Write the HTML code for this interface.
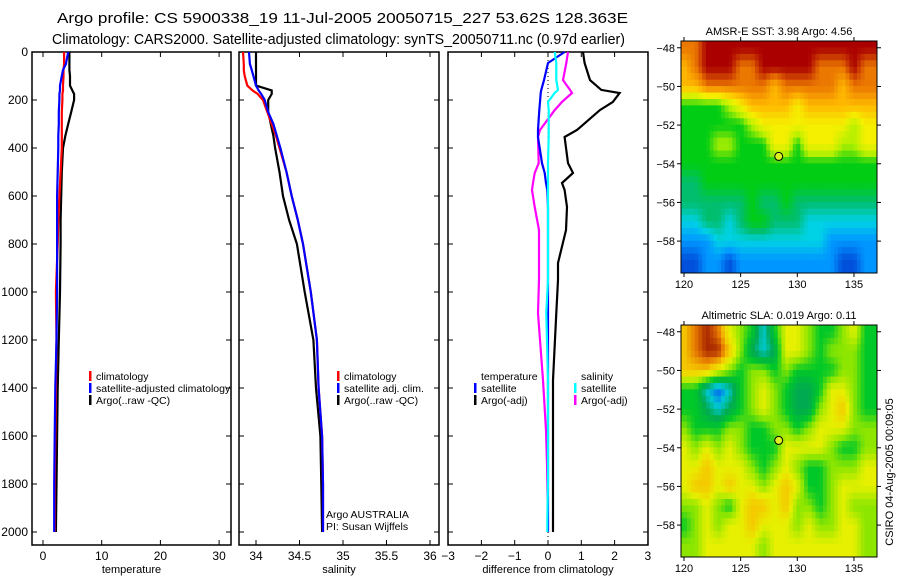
<!DOCTYPE html>
<html><head><meta charset="utf-8"><style>
html,body{margin:0;padding:0;background:#fff;}
svg{display:block;font-family:"Liberation Sans",sans-serif;}
</style></head><body>
<svg id="fig" width="900" height="580" xmlns="http://www.w3.org/2000/svg">
<defs>
<clipPath id="clip1"><rect x="681" y="41" width="196" height="232"/></clipPath>
<clipPath id="clip2"><rect x="681" y="325" width="196" height="232"/></clipPath>
</defs>
<text x="57" y="23" textLength="571" lengthAdjust="spacingAndGlyphs" font-size="15">Argo profile: CS 5900338_19 11-Jul-2005 20050715_227 53.62S 128.363E</text>
<text x="52" y="44" textLength="573" lengthAdjust="spacingAndGlyphs" font-size="15">Climatology: CARS2000. Satellite-adjusted climatology: synTS_20050711.nc (0.97d earlier)</text>
<g id="g"></g>
</svg>
<script>
// ---- data ----
const depths = [0,50,75,100,140,160,175,200,250,300,350,400,500,600,700,800,1000,1200,1400,1600,1800,2000];
const tempArgo = [4.5,4.5,4.5,4.6,4.6,5.0,5.3,5.3,4.8,4.3,3.8,3.4,3.2,3.1,3.0,3.0,2.9,2.7,2.5,2.4,2.3,2.2];
const tempClim = [3.6,3.6,3.5,3.5,3.4,3.4,3.3,3.3,3.2,3.2,3.2,3.2,3.0,2.8,2.6,2.5,2.2,2.3,2.2,2.1,2.0,2.0];
const tempSat  = [4.3,3.9,3.4,3.2,2.9,2.9,2.8,2.8,2.7,2.7,2.6,2.6,2.5,2.4,2.4,2.4,2.4,2.3,2.1,2.0,1.9,1.9];
const salArgo = [34.0,34.0,34.0,34.0,34.0,34.18,34.18,34.14,34.14,34.17,34.2,34.22,34.27,34.31,34.38,34.47,34.56,34.66,34.69,34.74,34.75,34.76];
const salClim = [33.85,33.86,33.86,33.87,33.9,33.96,34.02,34.08,34.13,34.18,34.23,34.27,34.35,34.41,34.48,34.54,34.63,34.70,34.72,34.76,34.77,34.77];
const salSat  = [33.92,33.93,33.95,33.97,34.0,34.03,34.06,34.1,34.14,34.2,34.24,34.28,34.35,34.41,34.48,34.54,34.63,34.70,34.72,34.76,34.77,34.77];
const diffDepths = [0,46,117,158,171,208,242,325,354,463,504,546,575,646,742,879,950,1088,1367,1575,1713,1783,1962,2000];
const dTempSat  = [0.5,0.0,-0.12,-0.2,-0.22,-0.24,-0.26,-0.3,-0.3,-0.18,-0.1,-0.06,-0.02,0,0,0,0,0,0,0,0,0,0,0];
const dTempArgo = [1.05,1.1,1.26,1.6,2.15,1.95,1.56,0.87,0.5,0.6,0.75,0.42,0.5,0.57,0.54,0.3,0.3,0.25,0.15,0.15,0.15,0.15,0.15,0.15];
const dSalSat   = [0.2,0.25,0.25,0.3,0.2,0.0,0.02,0.02,0.02,0.0,0.0,0.0,0.0,0.0,0.0,0.0,0.0,-0.05,0.0,0.0,0.0,0.0,-0.02,-0.02];
const dSalArgo  = [0.6,0.55,0.45,0.66,0.72,0.42,0.2,-0.24,-0.3,-0.28,-0.4,-0.45,-0.48,-0.4,-0.27,-0.27,-0.27,-0.3,-0.15,-0.06,-0.03,-0.02,0.0,0.0];
const depthTicks = [0,200,400,600,800,1000,1200,1400,1600,1800,2000];
const tempTicks = [0,10,20,30];
const salTicks = [34,34.5,35,35.5,36];
const salTickLabels = ["34","34.5","35","35.5","36"];
const diffTicks = [-3,-2,-1,0,1,2,3];
const mapLons = [120,121,122,123,124,125,126,127,128,129,130,131,132,133,134,135,136];
const mapLats = [-48,-49,-50,-51,-52,-53,-54,-55,-56,-57,-58,-59];
const lonTicks = [120,125,130,135];
const latTicks = [-48,-50,-52,-54,-56,-58];
const sstGrid = [
[8,8,9,9,9,9,9,9,9,9,9,9,9,9,9,9,9],
[7,8,9,9,9,8,8,9,9,9,9,9,8,8,8,9,8],
[7,7,8,8,8,8,8,8,7,8,8,8,8,8,7,8,8],
[4,4,4,4,5,6,7,7,7,7,6,7,7,7,7,7,7],
[4,4,4,4,4,4,5,6,6,6,6,6,6,6,6,5,6],
[4,4,4,5,5,4,4,4,6,6,4,6,6,6,5,5,6],
[4,4,4,4,4,4,4,4,4,4,4,4,4,4,4,4,4],
[3,3,4,4,4,4,4,4,4,4,4,4,4,4,4,4,4],
[3,3,3,3,3,3,4,3,3,4,3,3,3,3,3,3,3],
[2,2,3,3,2,3,4,4,3,3,3,2,2,2,2,2,2],
[1,1,1,2,2,2,2,2,2,2,2,2,2,1,1,1,1],
[0,0,1,1,0,1,1,1,1,1,1,1,1,1,0,0,1]];
const slaGrid = [
[6,7,8,7,5,4,3,1,3,5,5,4,3,3,4,5,3],
[6,7,8,8,6,4,2,1,2,5,5,4,3,4,4,4,3],
[6,6,6,5,4,3,4,4,3,4,3,3,3,3,4,4,3],
[3,3,1,0,1,3,4,5,4,3,2,2,3,5,5,4,3],
[3,3,2,1,2,3,4,5,4,3,2,2,4,5,6,4,3],
[4,3,3,3,4,4,3,3,4,4,3,4,5,5,5,4,4],
[5,4,5,4,5,4,3,3,3,5,5,5,5,4,3,3,4],
[5,5,6,5,5,5,4,3,4,5,4,3,3,4,4,4,5],
[5,6,6,5,6,5,5,4,5,6,5,3,3,4,5,5,5],
[4,4,5,4,3,5,6,6,5,6,4,4,3,4,5,4,4],
[3,4,5,4,5,5,6,5,5,5,4,5,4,4,5,5,4],
[4,4,5,5,5,5,5,4,5,5,5,5,5,5,5,5,4]];
const argoLon = 128.36, argoLat = -53.62;

const NS="http://www.w3.org/2000/svg";
const G=document.getElementById('g');
function mk(tag,attrs,parent){const e=document.createElementNS(NS,tag);for(const k in attrs)e.setAttribute(k,attrs[k]);(parent||G).appendChild(e);return e;}
function txt(x,y,s,size,anchor,parent){const t=mk('text',{x:x,y:y,'font-size':size,'text-anchor':anchor||'start'},parent);t.textContent=s;return t;}

const Y0=52, Y1=545;
const yD = d => 52 + d*0.24;

function panel(name,L,R,xs,ticks,labels,xlabel,showY){
  const g=mk('g',{});
  
  
  const f=mk('rect',{x:L,y:Y0,width:R-L,height:Y1-Y0,fill:'none',stroke:'#000','stroke-width':1.5},g);
  
  
  ticks.forEach((v,i)=>{const x=xs(v);
    mk('line',{x1:x,y1:Y1,x2:x,y2:Y1-5,stroke:'#000'},g);
    mk('line',{x1:x,y1:Y0,x2:x,y2:Y0+5,stroke:'#000'},g);
    const t=txt(x,Y1+15,labels[i],12,'middle',g);
    
    
  });
  depthTicks.forEach(d=>{const y=yD(d);
    mk('line',{x1:L,y1:y,x2:L+5,y2:y,stroke:'#000'},g);
    mk('line',{x1:R,y1:y,x2:R-5,y2:y,stroke:'#000'},g);
    if(showY){const t=txt(L-4,y+4,String(d),12,'end',g);
      
      }
  });
  const xl=txt((L+R)/2,Y1+28,xlabel,11,'middle',g);
  
  
  return g;
}
function series(name,xs,xvals,dvals,color,w){
  const pts=xvals.map((v,i)=>xs(v).toFixed(1)+','+yD(dvals[i]).toFixed(1)).join(' ');
  const p=mk('polyline',{points:pts,fill:'none',stroke:color,'stroke-width':w||2.2});
  
  
}
function legend(x,y,color,label,name){
  const r=mk('rect',{x:x,y:y-9,width:2.5,height:10,fill:color});
  
  
  const t=txt(x+7,y,label,10.5);
  
  
}

// temperature panel
const xT = v => 43 + v*5.87;
panel('temperature-panel',32,231,xT,tempTicks,tempTicks.map(String),'temperature',true);
series('temp-argo-line',xT,tempArgo,depths,'#000');
series('temp-climatology-line',xT,tempClim,depths,'#f00');
series('temp-satellite-line',xT,tempSat,depths,'#00f');
legend(89,380,'#f00','climatology','legend-climatology');
legend(89,392,'#00f','satellite-adjusted climatology','legend-satellite-adjusted');
legend(89,404,'#000','Argo(..raw -QC)','legend-argo');

// salinity panel
const xS = v => 256 + (v-34)*87;
panel('salinity-panel',239,439,xS,salTicks,salTickLabels,'salinity',false);
series('sal-argo-line',xS,salArgo,depths,'#000');
series('sal-climatology-line',xS,salClim,depths,'#f00');
series('sal-satellite-line',xS,salSat,depths,'#00f');
legend(337,380,'#f00','climatology','legend-sal-climatology');
legend(337,392,'#00f','satellite adj. clim.','legend-sal-satellite');
legend(337,404,'#000','Argo(..raw -QC)','legend-sal-argo');
let t1=txt(326,518,'Argo AUSTRALIA',10.5);


let t2=txt(326,530,'PI: Susan Wijffels',10.5);



// difference panel
const xDf = v => 548 + v*33.3;
panel('difference-panel',448,648,xDf,diffTicks,diffTicks.map(v=>v<0?'\u2212'+(-v):String(v)),'difference from climatology',false);
const zl=mk('line',{x1:548,y1:Y0,x2:548,y2:Y1,stroke:'#000','stroke-dasharray':'1,3'});


series('diff-temp-argo-line',xDf,dTempArgo,diffDepths,'#000');
series('diff-sal-argo-line',xDf,dSalArgo,diffDepths,'#f0f');
series('diff-temp-satellite-line',xDf,dTempSat,diffDepths,'#00f');
series('diff-sal-satellite-line',xDf,dSalSat,diffDepths,'#0ff');
let tt=txt(481,380,'temperature',10.5);


legend(474,392,'#00f','satellite','legend-temp-satellite');
legend(474,404,'#000','Argo(-adj)','legend-temp-argo');
let ts=txt(581,380,'salinity',10.5);


legend(574,392,'#0ff','satellite','legend-sal-sat');
legend(574,404,'#f0f','Argo(-adj)','legend-sal-argo-adj');

// maps
const sstColors=[[0,80,220],[0,150,255],[0,210,230],[0,190,110],[0,205,20],[180,240,0],[245,240,0],[255,185,0],[235,120,0],[170,0,0]];
const slaColors=[[0,100,240],[0,200,210],[0,170,80],[0,200,40],[140,230,0],[230,240,0],[245,200,0],[230,120,0],[170,40,0]];
function sample(grid,r,c){
  const R=grid.length-1,C=grid[0].length-1;
  r=Math.max(0,Math.min(R,r)); c=Math.max(0,Math.min(C,c));
  const r0=Math.floor(r),c0=Math.floor(c),r1=Math.min(R,r0+1),c1=Math.min(C,c0+1);
  const fr=r-r0,fc=c-c0;
  return grid[r0][c0]*(1-fr)*(1-fc)+grid[r0][c1]*(1-fr)*fc+grid[r1][c0]*fr*(1-fc)+grid[r1][c1]*fr*fc;
}
function colorOf(pal,v){
  const i=Math.max(0,Math.min(pal.length-1.001,v)),i0=Math.floor(i),f=i-i0;
  const a=pal[i0],b=pal[i0+1];
  return 'rgb('+a.map((x,k)=>Math.round(x*(1-f)+b[k]*f)).join(',')+')';
}
function map(name,top,bottom,grid,colors,title,clip){
  const L=681,R=877;
  const latTop=-47.65, latBot=-59.65;
  const sy = lat => top + (latTop-lat)/(latTop-latBot)*(bottom-top);
  const sx = lon => 684 + (lon-120)*11.33;
  const g=mk('g',{'clip-path':'url(#'+clip+')'});
  
  
  const step=1/3;
  for(let lat=latTop; lat>latBot-step; lat-=step){
    for(let lon=119.6; lon<137.2; lon+=step/1.0){
      const r=(mapLats[0]-(lat-step/2));
      const c=(lon+step/2-mapLons[0]);
      const v=sample(grid,r,c);
      const x0=sx(lon),y0=sy(lat);
      const cell=mk('rect',{x:x0.toFixed(1),y:y0.toFixed(1),width:(sx(lon+step)-x0+0.6).toFixed(1),height:(sy(lat-step)-y0+0.6).toFixed(1),fill:colorOf(colors,v)},g);
      
      
    }
  }
  const fr=mk('rect',{x:L,y:top,width:R-L,height:bottom-top,fill:'none',stroke:'#000','stroke-width':1});
  
  
  latTicks.forEach(lat=>{const y=sy(lat);
    mk('line',{x1:L,y1:y,x2:L-4,y2:y,stroke:'#000'});
    mk('line',{x1:R,y1:y,x2:R+4,y2:y,stroke:'#000'});
    const t=txt(L-6,y+4,'\u2212'+(-lat),11,'end');
    
    
  });
  lonTicks.forEach(lon=>{const x=sx(lon);
    mk('line',{x1:x,y1:bottom,x2:x,y2:bottom+4,stroke:'#000'});
    mk('line',{x1:x,y1:top,x2:x,y2:top-4,stroke:'#000'});
    const t=txt(x,bottom+15,String(lon),11,'middle');
    
    
  });
  const ti=txt((L+R)/2,top-6,title,11,'middle');
  
  
  const m=mk('circle',{cx:sx(argoLon),cy:sy(argoLat),r:4,fill:'#dcf020',stroke:'#000','stroke-width':1});
  
  
}
map('sst-map',41,273,sstGrid,sstColors,'AMSR-E SST: 3.98 Argo: 4.56','clip1');
map('sla-map',325,557,slaGrid,slaColors,'Altimetric SLA: 0.019 Argo: 0.11','clip2');
const cs=txt(0,0,'CSIRO 04-Aug-2005 00:09:05',11,'middle');
cs.setAttribute('transform','translate(893,472) rotate(-90)');


</script>
</body></html>
